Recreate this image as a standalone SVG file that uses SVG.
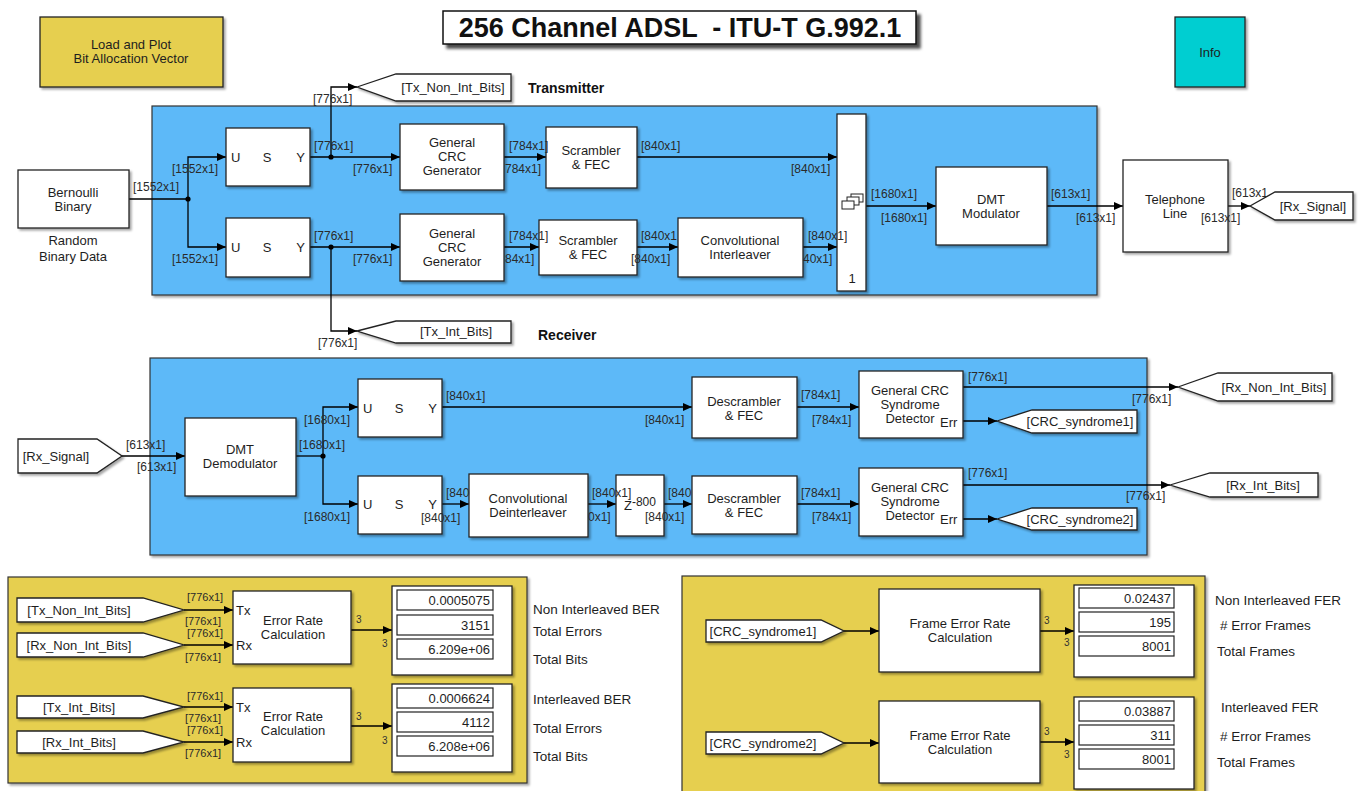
<svg xmlns="http://www.w3.org/2000/svg" width="1359" height="791" viewBox="0 0 1359 791">
<defs>
<filter id="sh" x="-10%" y="-10%" width="130%" height="130%"><feDropShadow dx="2" dy="2" stdDeviation="1.2" flood-color="#000" flood-opacity="0.35"/></filter>
<filter id="tsh" x="-5%" y="-20%" width="115%" height="160%"><feDropShadow dx="4" dy="4" stdDeviation="1.5" flood-color="#000" flood-opacity="0.7"/></filter>
<marker id="ar" markerUnits="userSpaceOnUse" markerWidth="9" markerHeight="8" refX="9" refY="4" orient="auto"><path d="M0,0 L9,4 L0,8 z" fill="#000"/></marker>
<style>
.blk{fill:#fff;stroke:#222;stroke-width:1.3;filter:url(#sh)}
.pnl{stroke:#333;stroke-width:1.2;filter:url(#sh)}
.blue{fill:#5DB9F8}
.yel{fill:#E6CF50}
.t{font-family:"Liberation Sans",Arial,sans-serif;font-size:13px;fill:#1e1e1e;text-anchor:middle}
.tl{font-family:"Liberation Sans",Arial,sans-serif;font-size:13px;fill:#1e1e1e}
.tr{font-family:"Liberation Sans",Arial,sans-serif;font-size:13px;fill:#1e1e1e;text-anchor:end}
.d{font-family:"Liberation Sans",Arial,sans-serif;font-size:12px;fill:#2a2a2a}
.ds{font-size:11px}
.n3{font-family:"Liberation Sans",Arial,sans-serif;font-size:10px;fill:#333}
.w{fill:none;stroke:#000;stroke-width:1.3}
.wa{marker-end:url(#ar)}
.fld{fill:#fff;stroke:#222;stroke-width:1.2}
.b{font-family:"Liberation Sans",Arial,sans-serif;font-weight:bold;fill:#111}
.lbl{font-size:13.5px}
</style>
</defs>
<rect width="1359" height="791" fill="#fff"/>

<!-- panels -->
<g id="tx-panel"><rect class="pnl blue" x="152" y="106" width="945" height="189"/></g>
<g id="rx-panel"><rect class="pnl blue" x="150" y="358" width="997" height="197"/></g>
<g id="ber-panel"><rect class="pnl yel" x="8" y="577" width="519" height="206"/></g>
<g id="fer-panel"><rect class="pnl yel" x="682" y="576" width="523" height="230"/></g>

<g id="title">
<rect x="443" y="11" width="473" height="33" fill="#fff" stroke="#111" stroke-width="1.5" filter="url(#tsh)"/>
<text class="b" x="680" y="37" font-size="27" text-anchor="middle" xml:space="preserve" style="white-space:pre">256 Channel ADSL  - ITU-T G.992.1</text>
</g>
<g id="load-plot"><rect class="blk yel" x="40" y="17" width="183" height="70"/><text class="t" x="131" y="49">Load and Plot</text><text class="t" x="131" y="63">Bit Allocation Vector</text></g>
<g id="info"><rect class="blk" style="fill:#00CED1" x="1175" y="17" width="70" height="70"/><text class="t" x="1210" y="57">Info</text></g>
<text class="b" x="528" y="93" font-size="14">Transmitter</text>
<text class="b" x="538" y="340" font-size="14">Receiver</text>

<!-- connectors -->
<g id="connectors" class="w">
<path d="M129,199H188"/>
<path class="wa" d="M188,199V157H226"/>
<path class="wa" d="M188,199V247H226"/>
<path class="wa" d="M310,157H400"/>
<path class="wa" d="M331,157V87H357"/>
<path class="wa" d="M310,247H400"/>
<path class="wa" d="M331,247V331H357"/>
<path class="wa" d="M504,157H546"/>
<path class="wa" d="M637,157H837"/>
<path class="wa" d="M504,247H539"/>
<path class="wa" d="M637,247H678"/>
<path class="wa" d="M803,247H837"/>
<path class="wa" d="M866,206H936"/>
<path class="wa" d="M1047,206H1123"/>
<path class="wa" d="M1228,206H1250"/>
<path class="wa" d="M122,456H185"/>
<path d="M296,456H323"/>
<path class="wa" d="M323,456V407H358"/>
<path class="wa" d="M323,456V504H358"/>
<path class="wa" d="M442,407H692"/>
<path class="wa" d="M797,407H859"/>
<path class="wa" d="M442,504H469"/>
<path class="wa" d="M588,504H616"/>
<path class="wa" d="M664,504H692"/>
<path class="wa" d="M797,504H859"/>
<path class="wa" d="M963,387H1178"/>
<path class="wa" d="M963,421H997"/>
<path class="wa" d="M963,485H1170"/>
<path class="wa" d="M963,519H997"/>
<path class="wa" d="M184,610H233"/>
<path class="wa" d="M184,645H233"/>
<path class="wa" d="M184,707H233"/>
<path class="wa" d="M184,742H233"/>
<path class="wa" d="M351,630H392"/>
<path class="wa" d="M351,726H392"/>
<path class="wa" d="M844,631H879"/>
<path class="wa" d="M1040,631H1074"/>
<path class="wa" d="M844,743H879"/>
<path class="wa" d="M1040,742H1074"/>
<circle cx="188" cy="199" r="2.6" fill="#000" stroke="none"/>
<circle cx="331" cy="157" r="2.6" fill="#000" stroke="none"/>
<circle cx="331" cy="247" r="2.6" fill="#000" stroke="none"/>
<circle cx="323" cy="456" r="2.6" fill="#000" stroke="none"/>
</g>

<!-- Transmitter nodes -->
<g id="bernoulli"><rect class="blk" x="18" y="170" width="111" height="58"/><text class="t" x="73" y="197">Bernoulli</text><text class="t" x="73" y="211">Binary</text><text class="t" x="73" y="245">Random</text><text class="t" x="73" y="261">Binary Data</text></g>
<g id="usy1"><rect class="blk" x="226" y="128" width="84" height="58"/><text class="tl" x="231" y="162">U</text><text class="t" x="267" y="162">S</text><text class="tr" x="305" y="162">Y</text></g>
<g id="usy2"><rect class="blk" x="226" y="218" width="84" height="59"/><text class="tl" x="231" y="252">U</text><text class="t" x="267" y="252">S</text><text class="tr" x="305" y="252">Y</text></g>
<g id="crc-gen1"><rect class="blk" x="400" y="124" width="104" height="66"/><text class="t" x="452" y="147">General</text><text class="t" x="452" y="161">CRC</text><text class="t" x="452" y="175">Generator</text></g>
<g id="crc-gen2"><rect class="blk" x="400" y="214" width="104" height="67"/><text class="t" x="452" y="238">General</text><text class="t" x="452" y="252">CRC</text><text class="t" x="452" y="266">Generator</text></g>
<g id="scrambler1"><rect class="blk" x="546" y="127" width="91" height="61"/><text class="t" x="591" y="155">Scrambler</text><text class="t" x="591" y="169">&amp; FEC</text></g>
<g id="scrambler2"><rect class="blk" x="539" y="220" width="98" height="55"/><text class="t" x="588" y="245">Scrambler</text><text class="t" x="588" y="259">&amp; FEC</text></g>
<g id="conv-interleaver"><rect class="blk" x="678" y="218" width="125" height="59"/><text class="t" x="740" y="245">Convolutional</text><text class="t" x="740" y="259">Interleaver</text></g>
<g id="mux"><rect class="blk" x="837" y="114" width="29" height="177"/>
<rect x="851" y="194" width="12" height="8" fill="#fff" stroke="#222" stroke-width="1"/>
<rect x="847" y="197" width="12" height="8" fill="#fff" stroke="#222" stroke-width="1"/>
<rect x="842" y="201" width="12" height="8" fill="#fff" stroke="#222" stroke-width="1"/>
<text class="t" x="852" y="283">1</text></g>
<g id="dmt-mod"><rect class="blk" x="936" y="167" width="111" height="78"/><text class="t" x="991" y="204">DMT</text><text class="t" x="991" y="218">Modulator</text></g>
<g id="telephone"><rect class="blk" x="1123" y="160" width="105" height="92"/><text class="t" x="1175" y="204">Telephone</text><text class="t" x="1175" y="218">Line</text></g>
<g id="goto-tx-non-int"><polygon class="blk" points="357,87 396,74 511,74 511,101 396,101"/><text class="t" x="453" y="92">[Tx_Non_Int_Bits]</text></g>
<g id="goto-tx-int"><polygon class="blk" points="357,331 396,321 511,321 511,343 396,343"/><text class="t" x="456" y="336">[Tx_Int_Bits]</text></g>
<g id="goto-rx-signal"><polygon class="blk" points="1250,206 1275,192 1353,192 1353,220 1275,220"/><text class="t" x="1313" y="211">[Rx_Signal]</text></g>

<!-- Receiver nodes -->
<g id="from-rx-signal"><polygon class="blk" points="18,439 97,439 122,456 97,473 18,473"/><text class="t" x="56" y="461">[Rx_Signal]</text></g>
<g id="dmt-demod"><rect class="blk" x="185" y="418" width="111" height="78"/><text class="t" x="240" y="454">DMT</text><text class="t" x="240" y="468">Demodulator</text></g>
<g id="usy3"><rect class="blk" x="358" y="379" width="84" height="58"/><text class="tl" x="363" y="413">U</text><text class="t" x="399" y="413">S</text><text class="tr" x="437" y="413">Y</text></g>
<g id="usy4"><rect class="blk" x="358" y="476" width="84" height="58"/><text class="tl" x="363" y="509">U</text><text class="t" x="399" y="509">S</text><text class="tr" x="437" y="509">Y</text></g>
<g id="conv-deinterleaver"><rect class="blk" x="469" y="474" width="119" height="63"/><text class="t" x="528" y="503">Convolutional</text><text class="t" x="528" y="517">Deinterleaver</text></g>
<g id="delay"><rect class="blk" x="616" y="475" width="48" height="61"/><text class="t" x="640" y="510">Z<tspan dy="-4" font-size="12">-800</tspan></text></g>
<g id="descrambler1"><rect class="blk" x="692" y="377" width="105" height="61"/><text class="t" x="744" y="406">Descrambler</text><text class="t" x="744" y="420">&amp; FEC</text></g>
<g id="descrambler2"><rect class="blk" x="692" y="476" width="105" height="58"/><text class="t" x="744" y="503">Descrambler</text><text class="t" x="744" y="517">&amp; FEC</text></g>
<g id="crc-det1"><rect class="blk" x="859" y="371" width="104" height="67"/><text class="t" x="910" y="395">General CRC</text><text class="t" x="910" y="409">Syndrome</text><text class="t" x="910" y="423">Detector</text><text class="tl" x="940" y="427">Err</text></g>
<g id="crc-det2"><rect class="blk" x="859" y="468" width="104" height="68"/><text class="t" x="910" y="492">General CRC</text><text class="t" x="910" y="506">Syndrome</text><text class="t" x="910" y="520">Detector</text><text class="tl" x="940" y="524">Err</text></g>
<g id="goto-rx-non-int"><polygon class="blk" points="1178,387 1218,373 1332,373 1332,401 1218,401"/><text class="t" x="1274" y="392">[Rx_Non_Int_Bits]</text></g>
<g id="goto-rx-int"><polygon class="blk" points="1170,485 1210,473 1318,473 1318,497 1210,497"/><text class="t" x="1263" y="490">[Rx_Int_Bits]</text></g>
<g id="goto-crc1"><polygon class="blk" points="997,421 1032,410 1137,410 1137,433 1032,433"/><text class="t" x="1080" y="426">[CRC_syndrome1]</text></g>
<g id="goto-crc2"><polygon class="blk" points="997,519 1032,508 1137,508 1137,530 1032,530"/><text class="t" x="1080" y="524">[CRC_syndrome2]</text></g>

<!-- BER section -->
<g id="from-tx-non-int"><polygon class="blk" points="17,598 143,598 184,610 143,622 17,622"/><text class="t" x="79" y="615">[Tx_Non_Int_Bits]</text></g>
<g id="from-rx-non-int"><polygon class="blk" points="17,633 143,633 184,645 143,657 17,657"/><text class="t" x="79" y="650">[Rx_Non_Int_Bits]</text></g>
<g id="from-tx-int"><polygon class="blk" points="17,696 143,696 184,707 143,718 17,718"/><text class="t" x="79" y="712">[Tx_Int_Bits]</text></g>
<g id="from-rx-int"><polygon class="blk" points="17,731 143,731 184,742 143,753 17,753"/><text class="t" x="79" y="747">[Rx_Int_Bits]</text></g>
<g id="err-rate1"><rect class="blk" x="233" y="591" width="118" height="73"/><text class="t" x="293" y="625">Error Rate</text><text class="t" x="293" y="639">Calculation</text><text class="tl" x="236" y="615">Tx</text><text class="tl" x="236" y="650">Rx</text></g>
<g id="err-rate2"><rect class="blk" x="233" y="688" width="118" height="74"/><text class="t" x="293" y="721">Error Rate</text><text class="t" x="293" y="735">Calculation</text><text class="tl" x="236" y="712">Tx</text><text class="tl" x="236" y="747">Rx</text></g>
<g id="display-ber1"><rect class="blk" x="392" y="586" width="120" height="89"/>
<rect class="fld" x="397" y="590" width="96" height="20"/><rect class="fld" x="397" y="615" width="96" height="20"/><rect class="fld" x="397" y="639" width="96" height="20"/>
<text class="tr" x="490" y="605">0.0005075</text><text class="tr" x="490" y="630">3151</text><text class="tr" x="490" y="654">6.209e+06</text></g>
<g id="display-ber2"><rect class="blk" x="392" y="684" width="120" height="88"/>
<rect class="fld" x="397" y="688" width="96" height="20"/><rect class="fld" x="397" y="712" width="96" height="20"/><rect class="fld" x="397" y="736" width="96" height="20"/>
<text class="tr" x="490" y="703">0.0006624</text><text class="tr" x="490" y="727">4112</text><text class="tr" x="490" y="751">6.208e+06</text></g>
<g id="ber-labels" class="tl lbl">
<text x="533" y="614">Non Interleaved BER</text>
<text x="533" y="636">Total Errors</text>
<text x="533" y="664">Total Bits</text>
<text x="533" y="704">Interleaved BER</text>
<text x="533" y="733">Total Errors</text>
<text x="533" y="761">Total Bits</text>
</g>

<!-- FER section -->
<g id="from-crc1"><polygon class="blk" points="706,620 821,620 844,631 821,642 706,642"/><text class="t" x="763" y="636">[CRC_syndrome1]</text></g>
<g id="from-crc2"><polygon class="blk" points="706,732 821,732 844,743 821,754 706,754"/><text class="t" x="763" y="748">[CRC_syndrome2]</text></g>
<g id="fer1"><rect class="blk" x="879" y="589" width="161" height="83"/><text class="t" x="960" y="628">Frame Error Rate</text><text class="t" x="960" y="642">Calculation</text></g>
<g id="fer2"><rect class="blk" x="879" y="701" width="161" height="82"/><text class="t" x="960" y="740">Frame Error Rate</text><text class="t" x="960" y="754">Calculation</text></g>
<g id="display-fer1"><rect class="blk" x="1074" y="585" width="120" height="92"/>
<rect class="fld" x="1079" y="588" width="95" height="20"/><rect class="fld" x="1079" y="612" width="95" height="20"/><rect class="fld" x="1079" y="636" width="95" height="20"/>
<text class="tr" x="1171" y="603">0.02437</text><text class="tr" x="1171" y="627">195</text><text class="tr" x="1171" y="651">8001</text></g>
<g id="display-fer2"><rect class="blk" x="1074" y="697" width="120" height="92"/>
<rect class="fld" x="1079" y="701" width="95" height="20"/><rect class="fld" x="1079" y="725" width="95" height="20"/><rect class="fld" x="1079" y="749" width="95" height="20"/>
<text class="tr" x="1171" y="716">0.03887</text><text class="tr" x="1171" y="740">311</text><text class="tr" x="1171" y="764">8001</text></g>
<g id="fer-labels" class="tl lbl">
<text x="1215" y="605">Non Interleaved FER</text>
<text x="1220" y="630"># Error Frames</text>
<text x="1217" y="656">Total Frames</text>
<text x="1221" y="712">Interleaved FER</text>
<text x="1220" y="741"># Error Frames</text>
<text x="1217" y="767">Total Frames</text>
</g>

<!-- signal labels -->
<g id="signal-labels" class="d">
<text x="133" y="191">[1552x1]</text>
<text x="172" y="173">[1552x1]</text>
<text x="172" y="263">[1552x1]</text>
<text x="313" y="103">[776x1]</text>
<text x="314" y="150">[776x1]</text>
<text x="353" y="173">[776x1]</text>
<text x="314" y="240">[776x1]</text>
<text x="353" y="263">[776x1]</text>
<text x="318" y="347">[776x1]</text>
<text x="509" y="150">[784x1]</text>
<text x="505" y="173">784x1]</text>
<text x="509" y="240">[784x1]</text>
<text x="505" y="263">84x1]</text>
<text x="641" y="150">[840x1]</text>
<text x="791" y="173">[840x1]</text>
<text x="641" y="240">[840x1</text>
<text x="631" y="263">[840x1]</text>
<text x="808" y="240">[840x1]</text>
<text x="803" y="263">40x1]</text>
<text x="871" y="198">[1680x1]</text>
<text x="881" y="222">[1680x1]</text>
<text x="1051" y="198">[613x1]</text>
<text x="1076" y="222">[613x1]</text>
<text x="1232" y="197">[613x1</text>
<text x="1201" y="222">[613x1]</text>
<text x="126" y="449">[613x1]</text>
<text x="137" y="471">[613x1]</text>
<text x="304" y="424">[1680x1]</text>
<text x="299" y="449">[1680x1]</text>
<text x="304" y="521">[1680x1]</text>
<text x="446" y="400">[840x1]</text>
<text x="645" y="424">[840x1]</text>
<text x="801" y="399">[784x1]</text>
<text x="812" y="424">[784x1]</text>
<text x="446" y="497">[840</text>
<text x="421" y="522">[840x1]</text>
<text x="592" y="497">[840x1]</text>
<text x="588" y="521">0x1]</text>
<text x="668" y="497">[840</text>
<text x="645" y="521">[840x1]</text>
<text x="801" y="497">[784x1]</text>
<text x="812" y="521">[784x1]</text>
<text x="968" y="381">[776x1]</text>
<text x="1132" y="403">[776x1]</text>
<text x="968" y="477">[776x1]</text>
<text x="1126" y="500">[776x1]</text>
<text class="ds" x="187" y="601">[776x1]</text>
<text class="ds" x="185" y="625">[776x1]</text>
<text class="ds" x="187" y="637">[776x1]</text>
<text class="ds" x="185" y="661">[776x1]</text>
<text class="ds" x="187" y="700">[776x1]</text>
<text class="ds" x="185" y="722">[776x1]</text>
<text class="ds" x="187" y="734">[776x1]</text>
<text class="ds" x="185" y="757">[776x1]</text>
<text class="n3" x="356" y="623">3</text>
<text class="n3" x="382" y="647">3</text>
<text class="n3" x="356" y="720">3</text>
<text class="n3" x="382" y="744">3</text>
<text class="n3" x="1044" y="624">3</text>
<text class="n3" x="1064" y="646">3</text>
<text class="n3" x="1044" y="735">3</text>
<text class="n3" x="1064" y="758">3</text>
</g>
</svg>
